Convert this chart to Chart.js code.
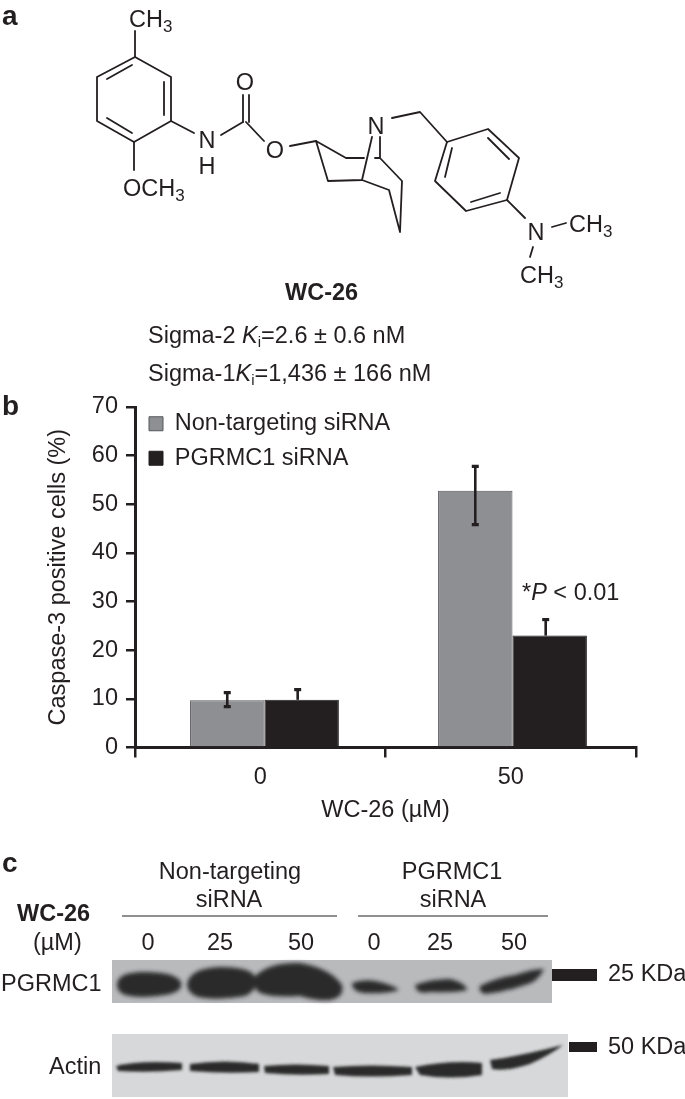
<!DOCTYPE html>
<html><head><meta charset="utf-8">
<script src="https://cdn.jsdelivr.net/npm/chart.js@4"></script>
<style>
html,body{margin:0;padding:0;background:#fff;width:685px;height:1099px;overflow:hidden}
#c{position:absolute;left:0;top:390px}
#o{position:absolute;left:0;top:0}
svg text{font-family:"Liberation Sans",Arial,sans-serif;fill:#231f20}
.b{font-weight:bold}
.m{text-anchor:middle}
.l{stroke:#231f20;stroke-width:1.8;fill:none;stroke-linecap:round;stroke-linejoin:round}
</style></head><body>
<canvas id="c" width="685" height="440"></canvas>
<svg id="o" width="685" height="1099" viewBox="0 0 685 1099">
<defs>
<filter id="blur1" x="-20%" y="-60%" width="140%" height="220%"><feGaussianBlur stdDeviation="2.2"/></filter>
<filter id="blur2" x="-20%" y="-80%" width="140%" height="260%"><feGaussianBlur stdDeviation="1.5"/></filter>
</defs>
<!-- panel letters -->
<text class="b" x="2" y="25" font-size="28">a</text>
<text class="b" x="2" y="415" font-size="28">b</text>
<text class="b" x="2" y="872" font-size="28">c</text>
<!-- WC-26 structure -->
<g class="l">
<path d="M135 57L171 77V121L134 142L97 121V77Z"/>
<path d="M132 65L107 79M164 82V115M107 118L132 133"/>
<path d="M135 57V31M134 142V170M171 121L194 133M221 135L243 122"/>
<path d="M243 122V95M249 122V95M246 122L264 141M290 146L316 141"/>
<path d="M346 158L316 141L328 181L362 180L372 137M346 158H364M380 137V158H375M380 158L402 181L400 232L389 190L362 180"/>
<path d="M392 118L420 112L447 142"/>
<path d="M447 142L488 129L519 158L507 200L466 211L435 181Z"/>
<path d="M488 138L509 159M500 193L471 202M445 177L452 148"/>
<path d="M507 200L525 218M552 227L566 223M533 247L530 257"/>
</g>
<g font-size="23.5">
<text x="129" y="27">CH<tspan font-size="17" dy="5">3</tspan></text>
<text x="123" y="195.5">OCH<tspan font-size="17" dy="5">3</tspan></text>
<text class="m" x="207" y="148">N</text>
<text class="m" x="207" y="173.5">H</text>
<text class="m" x="245" y="89.5">O</text>
<text class="m" x="275" y="157.5">O</text>
<text class="m" x="376" y="133.5">N</text>
<text class="m" x="536" y="239.5">N</text>
<text x="569" y="231.5">CH<tspan font-size="17" dy="5">3</tspan></text>
<text x="520" y="282.5">CH<tspan font-size="17" dy="5">3</tspan></text>
<text class="b" x="285" y="300">WC-26</text>
<text x="148" y="343">Sigma-2 <tspan font-style="italic">K</tspan><tspan font-size="15" dy="4">i</tspan><tspan dy="-4">=2.6 ± 0.6 nM</tspan></text>
<text x="148" y="381">Sigma-1<tspan font-style="italic">K</tspan><tspan font-size="15" dy="4">i</tspan><tspan dy="-4">=1,436 ± 166 nM</tspan></text>
<!-- significance note -->
<text x="522" y="600">*<tspan font-style="italic">P</tspan> &lt; 0.01</text>
<!-- panel c labels -->
<text class="m" x="230" y="878.5">Non-targeting</text>
<text class="m" x="229" y="906.5">siRNA</text>
<text class="m" x="452" y="878.5">PGRMC1</text>
<text class="m" x="453" y="906.5">siRNA</text>
<text class="b" x="17" y="920.5">WC-26</text>
<text x="33" y="949.5">(µM)</text>
<text class="m" x="148" y="949.5">0</text>
<text class="m" x="220" y="949.5">25</text>
<text class="m" x="301" y="949.5">50</text>
<text class="m" x="374" y="949.5">0</text>
<text class="m" x="440" y="949.5">25</text>
<text class="m" x="514" y="949.5">50</text>
<text x="1" y="990.5">PGRMC1</text>
<text x="49" y="1073.5">Actin</text>
<text x="608" y="980.5">25 KDa</text>
<text x="608" y="1053.5">50 KDa</text>
</g>
<path d="M122 916H337M358 916H548" stroke="#231f20" stroke-width="1.2"/>
<!-- western blots -->
<rect x="112" y="960" width="440" height="43" fill="#b9babc"/>
<g fill="#29292b" filter="url(#blur1)">
<path d="M117 985Q117 973 140 972Q175 971 181 982Q184 992 165 995Q140 999 125 995Q117 992 117 985Z"/>
<path d="M187 984Q190 968 220 967Q248 967 254 975Q260 990 245 996Q215 1001 198 997Q187 993 187 984Z"/>
<path d="M255 976Q270 962 300 963Q330 968 342 985Q345 997 330 1000Q315 1001 300 996Q270 998 258 992Q252 985 255 976Z"/>
<path d="M352 983Q365 978 380 982Q395 986 399 990Q385 994 365 993Q352 992 352 983Z"/>
<path d="M415 985Q430 979 450 979Q466 983 467 990Q455 993 430 992Q416 995 415 985Z"/>
<path d="M480 986Q495 978 515 975Q535 968 544 969Q538 982 525 985Q505 992 485 994Q478 992 480 986Z"/>
</g>
<rect x="552" y="969" width="45" height="12" fill="#231f20"/>
<rect x="112" y="1034" width="456" height="63" fill="#d7d8d9"/>
<g fill="#29292b" filter="url(#blur2)">
<path d="M116 1066Q140 1060 182 1063V1070Q150 1073 118 1071Z"/>
<path d="M190 1064Q225 1059 259 1064V1072Q225 1074 190 1071Z"/>
<path d="M264 1066Q295 1063 329 1066V1074Q295 1076 265 1073Z"/>
<path d="M333 1067Q370 1064 412 1067V1075Q370 1078 335 1075Z"/>
<path d="M415 1067Q450 1060 482 1063V1075Q450 1080 420 1075Z"/>
<path d="M490 1060Q520 1056 563 1045Q550 1055 530 1064Q505 1072 492 1069Z"/>
</g>
<rect x="569" y="1042" width="28" height="10" fill="#231f20"/>
</svg>
<script>
const categories = ['0', '50'];
const seriesNames = ['Non-targeting siRNA', 'PGRMC1 siRNA'];
const nonTargeting = [9.7, 52.8];
const pgrmc1 = [9.8, 23];
const nonTargetingHigh = [11.3, 57.8];
const nonTargetingLow = [8.4, 45.8];
const pgrmc1High = [11.9, 26.3];
const pgrmc1Low = [null, null];
const yTicks = [0, 10, 20, 30, 40, 50, 60, 70];
const barSlots = [0, 1];
const xTitle = 'WC-26 (µM)';
const yTitle = 'Caspase-3 positive cells (%)';
const ink = '#231f20';
const font = '"Liberation Sans", Arial, sans-serif';
const fontSize = 23.5;

const errorBars = {
  id: 'errorBars',
  afterLayout(chart) { chart.legend.top += 11; chart.legend.left += 3; },
  afterDatasetsDraw(chart) {
    const ctx = chart.ctx, y = chart.scales.y;
    const hi = [nonTargetingHigh, pgrmc1High], lo = [nonTargetingLow, pgrmc1Low];
    const shift = [0, -4];
    ctx.save();
    ctx.strokeStyle = ink; ctx.lineCap = 'butt';
    chart.data.datasets.forEach((d, i) => {
      chart.getDatasetMeta(i).data.forEach((el, j) => {
        const x = el.x + shift[i];
        const top = y.getPixelForValue(hi[i][j]);
        const low = lo[i][j] == null ? el.y : y.getPixelForValue(lo[i][j]);
        ctx.lineWidth = 2.6;
        ctx.beginPath(); ctx.moveTo(x, top); ctx.lineTo(x, low); ctx.stroke();
        ctx.lineWidth = 3.2;
        ctx.beginPath(); ctx.moveTo(x - 3.5, top); ctx.lineTo(x + 3.5, top);
        if (lo[i][j] != null) { ctx.moveTo(x - 3.5, low); ctx.lineTo(x + 3.5, low); }
        ctx.stroke();
      });
    });
    ctx.restore();
  }
};

const toPoints = vals => vals.map((v, i) => ({ x: barSlots[i], y: v }));

new Chart(document.getElementById('c'), {
  type: 'bar',
  plugins: [errorBars],
  data: {
    labels: categories,
    datasets: [
      { label: seriesNames[0], data: toPoints(nonTargeting), xAxisID: 'x2', backgroundColor: '#8e8f92', borderColor: '#55565a', borderWidth: 1 },
      { label: seriesNames[1], data: toPoints(pgrmc1), xAxisID: 'x2', backgroundColor: ink, borderColor: ink, borderWidth: 1 }
    ]
  },
  options: {
    responsive: false, animation: false,
    layout: { padding: { left: 44, right: 49, top: 17, bottom: 0 } },
    datasets: { bar: { barPercentage: 1, categoryPercentage: 0.6 } },
    plugins: {
      tooltip: { enabled: false },
      legend: {
        position: 'chartArea', align: 'start',
        labels: { boxWidth: 14, boxHeight: 14, padding: 11, color: ink, font: { family: font, size: fontSize } }
      }
    },
    scales: {
      x: {
        type: 'category',
        afterFit(s) { s.height = 82.5; },
        border: { color: ink, width: 3 },
        grid: { drawOnChartArea: false, color: ink, lineWidth: 2.5, tickLength: 10, offset: true },
        ticks: { color: ink, padding: 6, font: { family: font, size: fontSize } },
        title: { display: true, text: xTitle, color: ink, font: { family: font, size: fontSize }, padding: { top: 6, bottom: 5 } }
      },
      x2: {
        type: 'linear', display: false, offset: false, min: -0.522, max: 1.498,
        afterBuildTicks(s) { s.ticks = barSlots.map(v => ({ value: v })); }
      },
      y: {
        min: 0, max: 70,
        afterFit(s) { s.width = 91; s.paddingTop = 0; s.paddingBottom = 0; },
        afterBuildTicks(s) { s.ticks = yTicks.map(v => ({ value: v })); },
        border: { color: ink, width: 3 },
        grid: { drawOnChartArea: false, color: ink, lineWidth: 2.5, tickLength: 9 },
        ticks: { color: ink, padding: 8, font: { family: font, size: fontSize } },
        title: { display: true, text: yTitle, color: ink, font: { family: font, size: fontSize }, padding: { top: 0, bottom: 0 } }
      }
    }
  }
});
</script>
</body></html>
